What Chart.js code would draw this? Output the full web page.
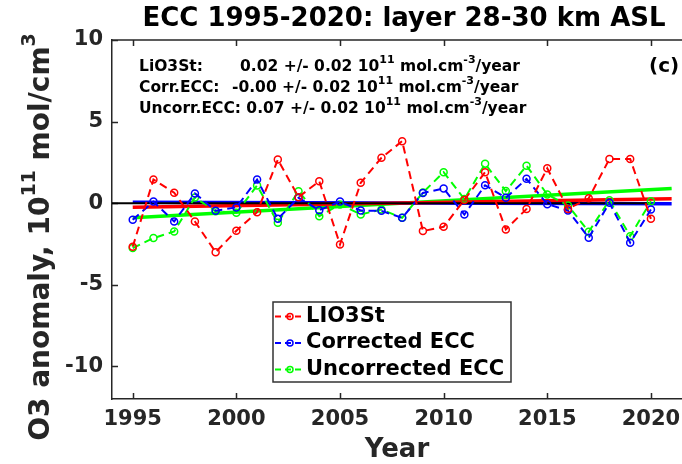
<!DOCTYPE html>
<html>
<head>
<meta charset="utf-8">
<script src="https://cdn.jsdelivr.net/npm/chart.js@4.4.0/dist/chart.umd.min.js"></script>
<style>
    html, body { margin: 0; padding: 0; background: #fff; }
    .chart-container { position: relative; width: 682px; height: 464px; }
</style>
</head>
<body>
<div class="chart-container"><canvas id="ozoneChart" width="682" height="464"></canvas></div>
<script>
// Yearly O3 anomalies in the 28-30 km layer (10^11 mol/cm3)
const years = [1995, 1996, 1997, 1998, 1999, 2000, 2001, 2002, 2003, 2004, 2005, 2006, 2007,
    2008, 2009, 2010, 2011, 2012, 2013, 2014, 2015, 2016, 2017, 2018, 2019, 2020];
const lio3st = [-2.67, 1.45, 0.64, -1.12, -3.0, -1.69, -0.55, 2.67, 0.37, 1.35, -2.53, 1.25, 2.78,
    3.8, -1.71, -1.45, 0.2, 1.9, -1.61, -0.35, 2.14, -0.35, 0.3, 2.71, 2.71, -0.96];
const correctedEcc = [-1.02, 0.1, -1.12, 0.6, -0.46, -0.26, 1.45, -0.96, 0.33, -0.43, 0.1, -0.45, -0.47,
    -0.9, 0.63, 0.9, -0.7, 1.1, 0.33, 1.49, -0.06, -0.45, -2.12, 0.02, -2.42, -0.39];
const uncorrectedEcc = [-2.75, -2.14, -1.73, 0.35, -0.5, -0.59, 1.08, -1.2, 0.73, -0.8, -0.08, -0.69, -0.39,
    -0.9, 0.65, 1.9, 0.25, 2.41, 0.74, 2.3, 0.53, -0.14, -1.75, 0.18, -2.02, 0.12];

// Linear trend lines (start / end values)
const trendYears = [1995, 2021];
const lio3stTrend = [-0.25, 0.27];
const correctedTrend = [0.05, -0.03];
const uncorrectedTrend = [-0.9, 0.9];
const zeroYears = [1994, 2020];
const zeroLine = [0, 0];

const xTicks = [1995, 2000, 2005, 2010, 2015, 2020];
const yTicks = [-10, -5, 0, 5, 10];

const seriesNames = ['LIO3St', 'Corrected ECC', 'Uncorrected ECC'];
const seriesColors = ['#ff0000', '#0000ff', '#00ff00'];

// Trend text in the upper left corner
const trendLabels = ['LiO3St:', 'Corr.ECC:', 'Uncorr.ECC:'];
const trendValues = ['0.02 +/- 0.02', '-0.00 +/- 0.02', '0.07 +/- 0.02'];

const FONT = "'DejaVu Sans', sans-serif";
const AXIS_COLOR = '#262626';

function toPoints(xs, ys) {
    return xs.map((x, i) => ({ x: x, y: ys[i] }));
}

function seriesDataset(i, values) {
    return {
        label: seriesNames[i],
        data: toPoints(years, values),
        borderColor: seriesColors[i],
        borderWidth: 2,
        borderDash: [8, 5],
        pointRadius: 3.5,
        pointBorderWidth: 1.5,
        pointBackgroundColor: 'rgba(0,0,0,0)',
        pointBorderColor: seriesColors[i],
        order: 0
    };
}

function trendDataset(color, values) {
    return {
        data: toPoints(trendYears, values),
        borderColor: color,
        borderWidth: 3.5,
        pointRadius: 0,
        order: 2
    };
}

// Draws text with superscript pieces: [[text, isSup], ...]
function drawRich(ctx, pieces, x, y, size) {
    let cx = x;
    pieces.forEach(([text, sup]) => {
        const s = sup ? Math.round(size * 0.68) : size;
        ctx.font = 'bold ' + s + 'px ' + FONT;
        ctx.fillText(text, cx, sup ? y - size * 0.42 : y);
        cx += ctx.measureText(text).width;
    });
    return cx - x;
}

function richWidth(ctx, pieces, size) {
    let w = 0;
    pieces.forEach(([text, sup]) => {
        const s = sup ? Math.round(size * 0.68) : size;
        ctx.font = 'bold ' + s + 'px ' + FONT;
        w += ctx.measureText(text).width;
    });
    return w;
}

// Inward tick marks, top frame, titles, trend text and legend box
const decorations = {
    id: 'decorations',
    beforeDatasetsDraw(chart) {
        const { ctx, chartArea: a, scales: { x, y } } = chart;
        ctx.save();
        ctx.strokeStyle = AXIS_COLOR;
        ctx.lineWidth = 1.5;
        ctx.beginPath();
        ctx.moveTo(a.left, a.top);
        ctx.lineTo(a.right, a.top);
        xTicks.forEach(v => {
            const px = Math.round(x.getPixelForValue(v)) + 0.5;
            ctx.moveTo(px, a.bottom);
            ctx.lineTo(px, a.bottom - 6);
            ctx.moveTo(px, a.top);
            ctx.lineTo(px, a.top + 6);
        });
        yTicks.forEach(v => {
            const py = Math.round(y.getPixelForValue(v)) + 0.5;
            ctx.moveTo(a.left, py);
            ctx.lineTo(a.left + 6, py);
        });
        ctx.stroke();

        // chart title
        ctx.fillStyle = '#000';
        ctx.textAlign = 'center';
        ctx.textBaseline = 'middle';
        ctx.font = 'bold 26px ' + FONT;
        ctx.fillText('ECC 1995-2020: layer 28-30 km ASL', 404, 19);

        // y axis title with superscripts
        const yTitle = [['O3 anomaly, 10', false], ['11', true], [' mol/cm', false], ['3', true]];
        ctx.textAlign = 'left';
        ctx.fillStyle = AXIS_COLOR;
        const w = richWidth(ctx, yTitle, 28);
        ctx.translate(42, 237);
        ctx.rotate(-Math.PI / 2);
        drawRich(ctx, yTitle, -w / 2, 0, 28);
        ctx.restore();
    },
    afterDatasetsDraw(chart) {
        const { ctx } = chart;
        ctx.save();
        ctx.fillStyle = '#000';
        ctx.textBaseline = 'middle';
        ctx.textAlign = 'left';

        // trend annotation
        const size = 15.5;
        ctx.font = 'bold ' + size + 'px ' + FONT;
        const row3X = 139 + ctx.measureText(trendLabels[2] + ' ').width;
        const valueX = [240, 232, row3X];
        trendLabels.forEach((label, i) => {
            const ty = 67 + i * 21;
            ctx.font = 'bold ' + size + 'px ' + FONT;
            ctx.fillText(label, 139, ty);
            drawRich(ctx, [[trendValues[i] + ' 10', false], ['11', true], [' mol.cm', false],
                ['-3', true], ['/year', false]], valueX[i], ty, size);
        });

        ctx.font = 'bold 20px ' + FONT;
        ctx.fillText('(c)', 649, 67);

        // legend
        const box = { left: 273, top: 302, right: 511, bottom: 382 };
        ctx.fillStyle = '#fff';
        ctx.fillRect(box.left, box.top, box.right - box.left, box.bottom - box.top);
        ctx.strokeStyle = '#333';
        ctx.lineWidth = 1.5;
        ctx.strokeRect(box.left, box.top, box.right - box.left, box.bottom - box.top);
        seriesNames.forEach((name, i) => {
            const ly = 316.5 + i * 26.5;
            ctx.strokeStyle = seriesColors[i];
            ctx.lineWidth = 2;
            ctx.setLineDash([6, 4]);
            ctx.beginPath();
            ctx.moveTo(275, ly);
            ctx.lineTo(302, ly);
            ctx.stroke();
            ctx.setLineDash([]);
            ctx.lineWidth = 1.5;
            ctx.beginPath();
            ctx.arc(290, ly, 3, 0, Math.PI * 2);
            ctx.stroke();
            ctx.fillStyle = '#000';
            ctx.font = 'bold 21px ' + FONT;
            ctx.fillText(name, 306, ly);
        });
        ctx.restore();
    }
};

const ctx = document.getElementById('ozoneChart').getContext('2d');
const ozoneChart = new Chart(ctx, {
    type: 'line',
    data: {
        datasets: [
            seriesDataset(0, lio3st),
            seriesDataset(1, correctedEcc),
            seriesDataset(2, uncorrectedEcc),
            {
                data: toPoints(zeroYears, zeroLine),
                borderColor: '#000',
                borderWidth: 2,
                pointRadius: 0,
                order: 1
            },
            trendDataset('#ff0000', lio3stTrend),
            trendDataset('#0000ff', correctedTrend),
            trendDataset('#00ff00', uncorrectedTrend)
        ]
    },
    options: {
        responsive: false,
        animation: false,
        devicePixelRatio: 1,
        layout: { autoPadding: false, padding: { top: 40, left: 0, right: 0, bottom: 0 } },
        plugins: {
            legend: { display: false },
            tooltip: { enabled: false },
            title: { display: false }
        },
        scales: {
            x: {
                type: 'linear',
                min: 1994,
                max: 2021.5,
                afterBuildTicks: s => { s.ticks = xTicks.map(v => ({ value: v })); },
                afterFit: s => { s.height = 65; s.paddingLeft = 0; s.paddingRight = 0; },
                grid: { display: false, drawTicks: false },
                border: { display: true, color: AXIS_COLOR, width: 1.5 },
                ticks: {
                    callback: v => String(v),
                    color: AXIS_COLOR,
                    padding: 8,
                    maxRotation: 0,
                    autoSkip: false,
                    font: { family: FONT, size: 21, weight: 'bold' }
                },
                title: {
                    display: true,
                    text: 'Year',
                    color: AXIS_COLOR,
                    padding: { top: 0, bottom: 1 },
                    font: { family: FONT, size: 26, weight: 'bold', lineHeight: 1.0 }
                }
            },
            y: {
                min: -12,
                max: 10,
                afterBuildTicks: s => { s.ticks = yTicks.map(v => ({ value: v })); },
                afterFit: s => { s.width = 112; s.paddingTop = 0; s.paddingBottom = 0; },
                grid: { display: false, drawTicks: false },
                border: { display: true, color: AXIS_COLOR, width: 1.5 },
                ticks: {
                    color: AXIS_COLOR,
                    padding: 9,
                    font: { family: FONT, size: 21, weight: 'bold' }
                }
            }
        }
    },
    plugins: [decorations]
});
</script>
</body>
</html>
